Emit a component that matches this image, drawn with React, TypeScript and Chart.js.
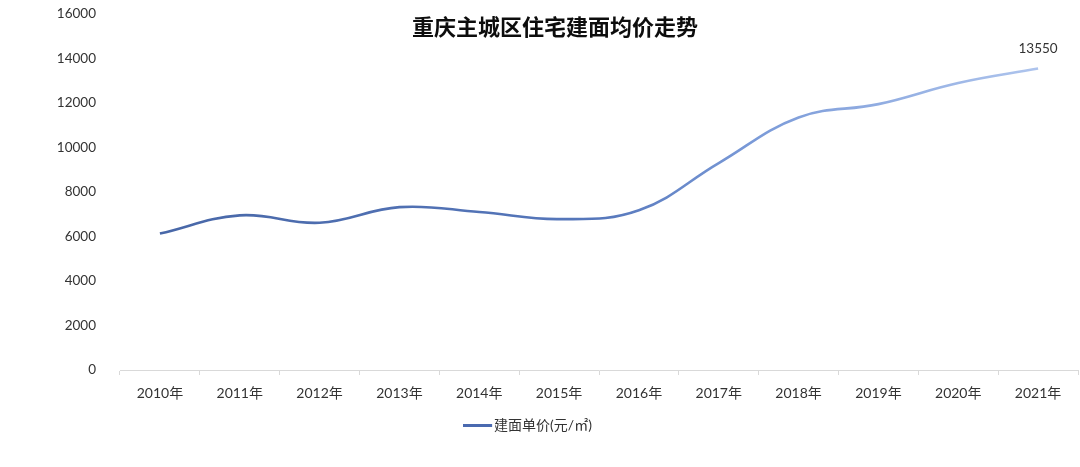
import React, { useEffect, useRef } from "react";
import { Chart, registerables } from "chart.js";

Chart.register(...registerables);

const categories = ["2010年", "2011年", "2012年", "2013年", "2014年", "2015年", "2016年", "2017年", "2018年", "2019年", "2020年", "2021年"];
const prices = [6130, 6950, 6620, 7320, 7100, 6780, 7180, 9300, 11350, 11950, 12900, 13550];
const seriesName = "建面单价(元/㎡)";
const chartTitle = "重庆主城区住宅建面均价走势";
const yTicks = { min: 0, max: 16000, step: 2000 };

const labelFont = "Lato, 'Noto Sans CJK SC', sans-serif";

export default function App() {
  const ref = useRef<HTMLCanvasElement | null>(null);

  useEffect(() => {
    if (!ref.current) return;

    // legend marker: 29px line drawn in the left part of a wider transparent image
    const legendLine = document.createElement("canvas");
    legendLine.width = 47;
    legendLine.height = 3;
    const lctx = legendLine.getContext("2d");
    if (lctx) {
      lctx.fillStyle = "#4a6ab0";
      lctx.fillRect(0, 0, 29, 3);
    }

    const titlePlugin = {
      id: "customTitle",
      afterDraw(chart: any) {
        const ctx = chart.ctx;
        ctx.save();
        ctx.font = "bold 22px 'Noto Sans CJK SC', sans-serif";
        ctx.fillStyle = "#0d0d0d";
        ctx.textAlign = "center";
        ctx.textBaseline = "middle";
        ctx.fillText(chartTitle, 555, 27);
        ctx.restore();
      },
    };

    const lastLabelPlugin = {
      id: "lastLabel",
      afterDatasetsDraw(chart: any) {
        const meta = chart.getDatasetMeta(0);
        const n = prices.length - 1;
        const pt = meta.data[n];
        if (!pt) return;
        const ctx = chart.ctx;
        ctx.save();
        ctx.font = "13.5px " + labelFont;
        ctx.fillStyle = "#333333";
        ctx.textAlign = "center";
        ctx.textBaseline = "middle";
        ctx.fillText(String(prices[n]), pt.x, pt.y - 20);
        ctx.restore();
      },
    };

    const chart = new Chart(ref.current, {
      type: "line",
      data: {
        labels: categories,
        datasets: [
          {
            label: seriesName,
            data: prices,
            borderWidth: 2.6,
            tension: 0.4,
            pointRadius: 0,
            pointHoverRadius: 0,
            fill: false,
            borderColor: (c: any) => {
              const ca = c.chart.chartArea;
              if (!ca) return "#4a6ab0";
              const g = c.chart.ctx.createLinearGradient(ca.left, 0, ca.right, 0);
              g.addColorStop(0, "#4766a6");
              g.addColorStop(0.5, "#5677bb");
              g.addColorStop(0.66, "#7a9ad8");
              g.addColorStop(1, "#b5caf0");
              return g;
            },
          },
        ],
      },
      options: {
        animation: false,
        responsive: true,
        maintainAspectRatio: false,
        layout: { padding: { top: 14, right: 2, bottom: 25, left: 0 } },
        plugins: {
          title: { display: false },
          tooltip: { enabled: false },
          legend: {
            display: true,
            position: "bottom",
            labels: {
              usePointStyle: true,
              pointStyle: legendLine as any,
              pointStyleWidth: 1,
              padding: 10,
              color: "#333333",
              font: { size: 14, family: labelFont },
            },
          },
        },
        scales: {
          x: {
            offset: true,
            grid: {
              display: true,
              offset: true,
              drawOnChartArea: false,
              drawTicks: true,
              tickLength: 5,
              color: "#d9d9d9",
            },
            border: { display: true, color: "#d9d9d9", width: 1 },
            ticks: {
              padding: 10,
              color: "#333333",
              font: { size: 14, family: labelFont },
              maxRotation: 0,
            },
            afterFit: (s: any) => {
              s.height = 38;
            },
          },
          y: {
            min: yTicks.min,
            max: yTicks.max,
            grid: { display: false },
            border: { display: false },
            ticks: {
              stepSize: yTicks.step,
              padding: 16,
              color: "#333333",
              font: { size: 13.5, family: labelFont },
              callback: (v: any) => String(v),
            },
            afterFit: (s: any) => {
              s.width = 120;
              s.paddingTop = 0;
              s.paddingBottom = 0;
            },
          },
        },
      },
      plugins: [titlePlugin, lastLabelPlugin],
    });

    return () => chart.destroy();
  }, []);

  return (
    <div style={{ position: "fixed", left: 0, top: 0, width: 1080, height: 467, background: "#ffffff" }}>
      <canvas ref={ref} />
    </div>
  );
}
